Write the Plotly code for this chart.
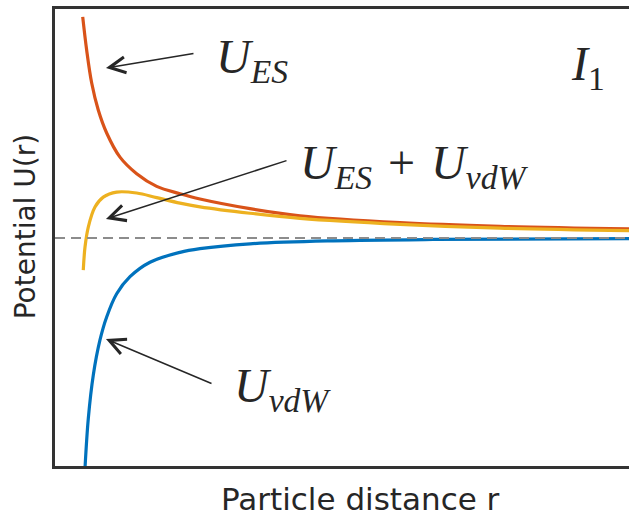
import plotly.graph_objects as go

# ---- data ----
r_es = [0.516, 0.585, 0.672, 0.786, 0.932, 1.163, 1.453, 1.800, 2.205, 2.552, 3.420, 4.288, 6.024, 7.760, 10.0]
u_es = [9.62, 8.17, 6.74, 5.57, 4.57, 3.52, 2.80, 2.25, 1.93, 1.70, 1.28, 0.97, 0.67, 0.51, 0.40]

r_sum = [0.526, 0.556, 0.613, 0.729, 0.873, 1.106, 1.453, 1.800, 2.205, 2.552, 3.420, 4.288, 6.024, 7.760, 10.0]
u_sum = [-1.39, -0.39, 0.48, 1.35, 1.78, 2.00, 1.96, 1.76, 1.52, 1.36, 1.08, 0.86, 0.60, 0.43, 0.32]

r_vdw = [0.556, 0.613, 0.700, 0.816, 0.932, 1.106, 1.337, 1.684, 2.205, 2.552, 3.420, 4.861, 6.597, 10.0]
u_vdw = [-10.0, -7.85, -5.95, -4.43, -3.43, -2.42, -1.68, -1.05, -0.62, -0.46, -0.25, -0.12, -0.06, -0.02]

x_title = "Particle distance r"
y_title = "Potential U(r)"

RED = "#D95319"
BLUE = "#0072BD"
YELLOW = "#EDB120"
DARK = "#262626"

fig = go.Figure()
fig.add_trace(go.Scatter(x=r_es, y=u_es, mode="lines",
                         line=dict(color=RED, width=3.2, shape="spline", smoothing=1.0)))
fig.add_trace(go.Scatter(x=r_sum, y=u_sum, mode="lines",
                         line=dict(color=YELLOW, width=3.2, shape="spline", smoothing=1.0)))
fig.add_trace(go.Scatter(x=r_vdw, y=u_vdw, mode="lines",
                         line=dict(color=BLUE, width=3.2, shape="spline", smoothing=1.0)))

# zero reference line
fig.add_shape(type="line", xref="paper", x0=0, x1=1, yref="y", y0=0, y1=0,
              line=dict(color="#8c8c8c", width=2, dash="10px,6px"), layer="above")

MATH = "Liberation Serif"
def label(x, y, text, size=48):
    fig.add_annotation(x=x, y=y, xref="x", yref="y", text=text, showarrow=False,
                       xanchor="left", yanchor="middle",
                       font=dict(family=MATH, size=size, color=DARK))

def arrow(x, y, ax, ay):
    fig.add_annotation(x=x, y=y, ax=ax, ay=ay, xref="x", yref="y", axref="x", ayref="y",
                       text="", showarrow=True, arrowhead=5, arrowsize=2.1,
                       arrowwidth=1.5, arrowcolor=DARK, standoff=0)

label(2.80, 7.75, "<i>U</i><sub><i>ES</i></sub>")
label(4.26, 3.15, "<i>U</i><sub><i>ES</i></sub>\u00a0\u200a+\u00a0\u200a<i>U</i><sub><i>vdW</i></sub>")
label(3.10, -6.55, "<i>U</i><sub><i>vdW</i></sub>")
label(8.96, 7.45, "<i>I</i><sub>1</sub>")

arrow(0.920, 7.39, 2.465, 8.04)
arrow(0.920, 0.83, 4.080, 3.39)
arrow(0.920, -4.39, 2.778, -6.35)

# axis titles (placed as in the reference, whose plot area runs past the right edge)
fig.add_annotation(text=x_title, xref="paper", yref="paper", x=0.533, y=-0.072,
                   xanchor="center", yanchor="middle", showarrow=False,
                   font=dict(family="DejaVu Sans", size=31, color=DARK))
fig.add_annotation(text=y_title, xref="paper", yref="paper", x=-0.050, y=0.523,
                   xanchor="center", yanchor="middle", showarrow=False, textangle=-90,
                   font=dict(family="DejaVu Sans", size=28, color=DARK))

fig.update_layout(
    width=629, height=512,
    margin=dict(l=55, r=0, t=9, b=46),
    paper_bgcolor="white", plot_bgcolor="white",
    showlegend=False,
    font=dict(family="DejaVu Sans", color=DARK),
    xaxis=dict(range=[0.035, 10.0], showgrid=False, zeroline=False,
               showticklabels=False, ticks="", showline=True, mirror=True,
               linecolor="#333333", linewidth=3),
    yaxis=dict(range=[-9.91, 9.96], showgrid=False, zeroline=False,
               showticklabels=False, ticks="", showline=True, mirror=False,
               linecolor="#333333", linewidth=3),
)

fig.write_html("out.html")
